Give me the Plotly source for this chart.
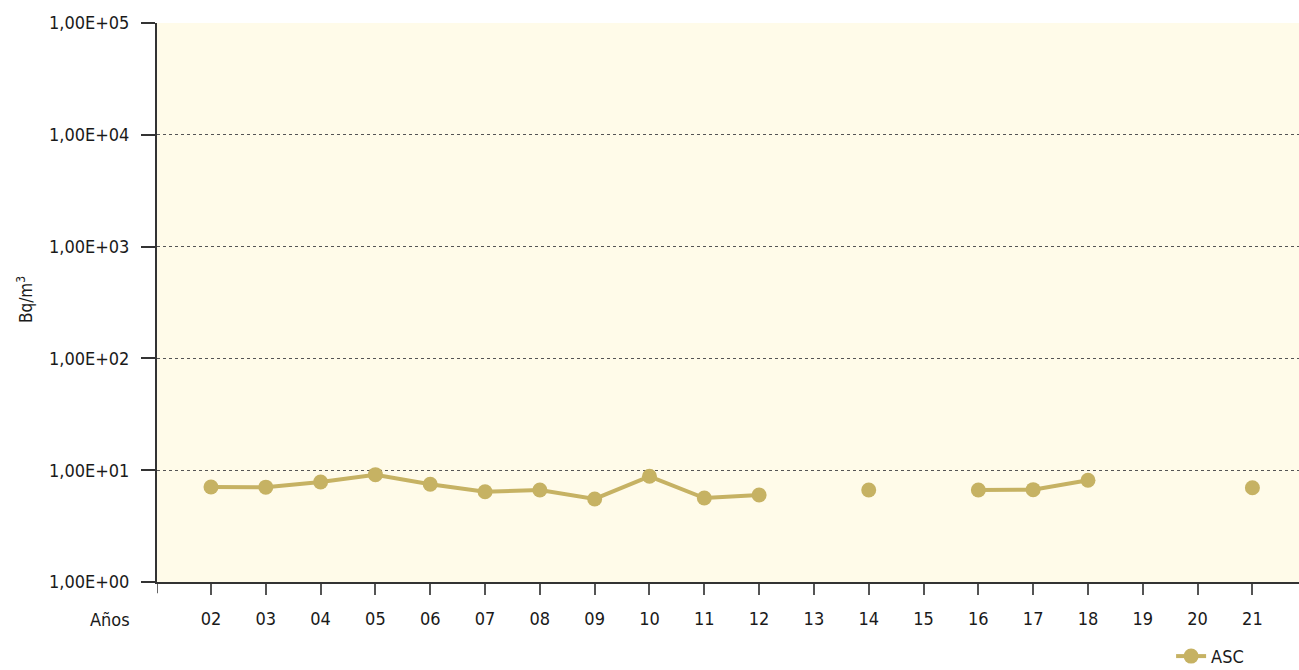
import plotly.graph_objects as go

years = ["02", "03", "04", "05", "06", "07", "08", "09", "10", "11",
         "12", "13", "14", "15", "16", "17", "18", "19", "20", "21"]
asc = [7.08, 7.05, 7.84, 9.12, 7.48, 6.42, 6.65, 5.53, 8.82, 5.64,
       6.0, None, 6.65, None, 6.65, 6.7, 8.12, None, None, 6.97]
ytick_vals = [1, 10, 100, 1000, 10000, 100000]
ytick_text = ["1,00E+00", "1,00E+01", "1,00E+02", "1,00E+03", "1,00E+04", "1,00E+05"]

FONT = "DejaVu Sans Condensed, Liberation Sans Narrow, sans-serif"
COL = "#C6B263"

fig = go.Figure()
fig.add_trace(go.Scatter(
    x=years, y=asc, mode="lines+markers", name="ASC",
    line=dict(color=COL, width=4),
    marker=dict(color=COL, size=15),
    connectgaps=False,
))

fig.update_layout(
    width=1299, height=670,
    margin=dict(l=157, r=0, t=23, b=88, autoexpand=False),
    paper_bgcolor="white", plot_bgcolor="#FFFBE9",
    font=dict(family=FONT, size=18, color="#1a1a1a"),
    showlegend=True,
    legend=dict(orientation="h", x=0.888, xanchor="left", y=-0.1, yanchor="top",
                font=dict(size=18), bgcolor="rgba(0,0,0,0)"),
    xaxis=dict(type="category", categoryorder="array", categoryarray=years,
               range=[-0.985, 19.85], showgrid=False,
               showline=True, linecolor="#333333", linewidth=2,
               ticks="outside", ticklen=11, tickcolor="#555555", tickwidth=1.5,
               ticklabelstandoff=8, zeroline=False, automargin=False),
    yaxis=dict(type="log", range=[0, 5], tickvals=ytick_vals, ticktext=ytick_text,
               showgrid=True, gridcolor="#555555", gridwidth=1, griddash="3px,3px",
               showline=True, linecolor="#333333", linewidth=2,
               ticks="outside", ticklen=14, tickcolor="#333333", tickwidth=1.5,
               ticklabelstandoff=8, zeroline=False, automargin=False),
)

# left-edge tick on x axis
fig.add_shape(type="line", xref="x", yref="paper", x0=-0.985, x1=-0.985,
              y0=0, y1=-0.02, line=dict(color="#333333", width=1.5))

fig.add_annotation(text="Años", xref="paper", yref="paper",
                   x=(132 - 157) / 1142, xanchor="right",
                   y=(582 - 619) / 559, yanchor="middle",
                   showarrow=False, font=dict(family=FONT, size=18))
fig.add_annotation(text="Bq/m<sup>3</sup>", xref="paper", yref="paper",
                   x=(25 - 157) / 1142, xanchor="center",
                   y=(582 - 300) / 559, yanchor="middle", textangle=-90,
                   showarrow=False, font=dict(family=FONT, size=17))

fig.write_html(
    "out.html",
    config={"displayModeBar": False},
    post_script="document.body.style.margin='0';document.body.style.overflow='hidden';",
)
